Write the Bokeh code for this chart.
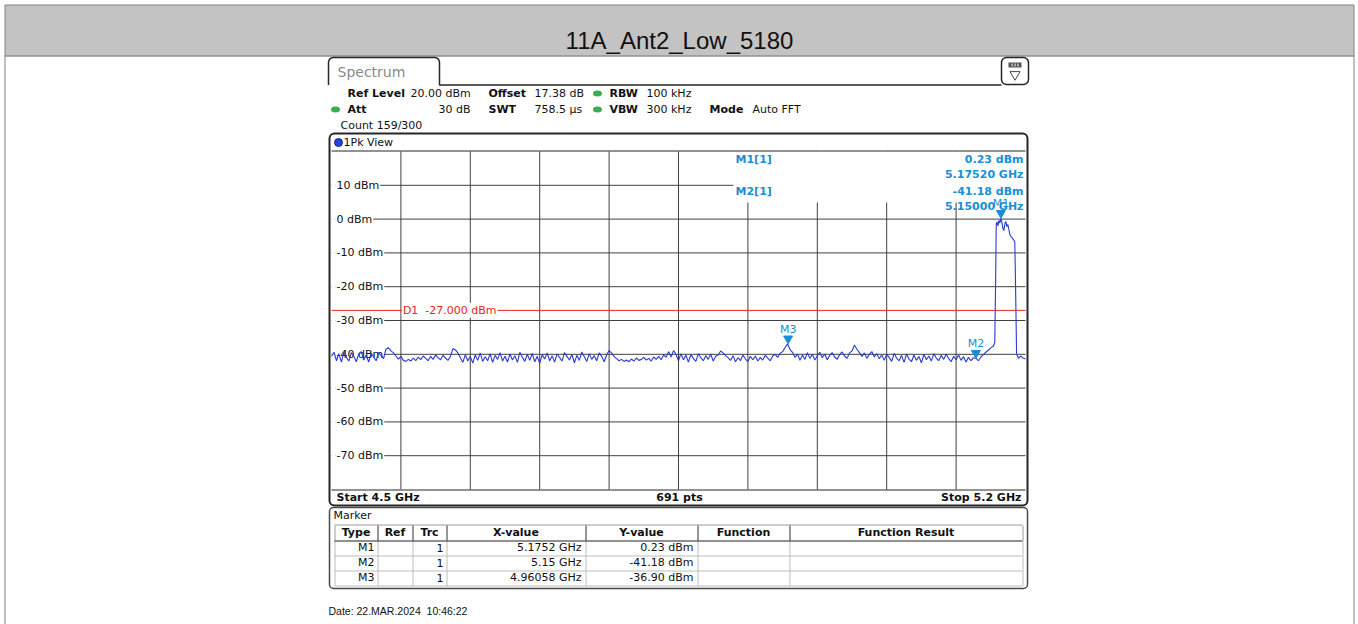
import numpy as np
from bokeh.plotting import figure
from bokeh.models import Range1d, Label
from bokeh.embed import file_html
from bokeh.resources import INLINE
from bokeh.core.properties import value

# ---------------- data ----------------
chart_title = "11A_Ant2_Low_5180"
freq_start_ghz = 4.5
freq_stop_ghz = 5.2
ref_level_dbm = 20.0
db_per_div = 10.0
n_x_div = 10
n_y_div = 10
sweep_points = 691

y_tick_dbm = [10, 0, -10, -20, -30, -40, -50, -60, -70]
y_tick_labels = ["10 dBm", "0 dBm", "-10 dBm", "-20 dBm", "-30 dBm",
                 "-40 dBm", "-50 dBm", "-60 dBm", "-70 dBm"]

# trace, 4.5000 ... 5.1650 GHz in 2.5 MHz steps
noise_step_ghz = 0.0025
noise_dbm = [
    -40.6, -39.4, -41.9, -39.8, -42.3, -39.3, -40.9, -42.0, -39.5, -40.6,
    -42.2, -39.9, -39.2, -41.7, -40.2, -42.3, -39.6, -40.8, -41.9, -39.5, -40.4, -41.3,
    -38.4, -38.1, -39.0,
    -39.6, -40.5, -41.4, -40.6, -41.8, -42.1, -41.5, -42.0, -41.1, -41.9,
    -40.8, -41.6, -40.5, -41.2, -41.9, -40.6, -41.5, -40.2, -41.0, -41.6,
    -40.3, -41.1, -41.8, -40.6,
    -38.3, -38.7, -39.6,
    -41.0, -42.4, -40.1, -42.0, -40.6, -42.6, -40.2, -41.8, -39.6, -42.1,
    -40.7, -41.9, -39.8, -42.4, -40.3, -41.5, -39.5, -42.0, -40.6, -42.3,
    -39.9, -41.7, -40.4, -42.4, -39.4, -40.9, -42.1, -40.0, -41.8, -39.7,
    -42.2, -40.6, -42.7, -40.1, -41.4, -39.6, -41.9, -40.4, -42.3, -39.9,
    -40.9, -42.0, -39.5, -40.6, -41.7, -40.0, -42.5, -40.3, -41.8, -39.3,
    -40.7, -42.1, -39.8, -41.5, -40.4, -41.9, -39.6, -40.6, -42.2, -40.2,
    -38.9, -39.6,
    -40.6, -41.3, -41.9, -41.5, -42.1, -41.7, -42.2, -41.4, -42.0, -41.1,
    -41.8, -41.5, -40.9, -41.7, -41.2, -42.0, -40.8, -41.5, -40.6, -41.6,
    -40.2, -40.9,
    -39.2, -40.8, -38.9,
    -40.0, -41.9, -39.8, -41.6, -40.3, -42.3, -40.1, -41.2, -42.1, -39.8,
    -41.0, -41.9, -40.4, -41.5, -39.9, -42.0, -40.6, -40.2,
    -39.0, -39.6, -40.4,
    -41.0, -41.8, -40.4, -42.2, -41.0, -41.9, -40.2, -41.4, -42.1, -40.6,
    -41.6, -40.5, -42.0, -40.9, -41.7, -40.3, -41.1, -41.9, -40.5, -40.0,
    -40.9, -39.7, -39.2,
    -38.0, -36.9, -38.6,
    -39.4, -40.9, -39.9, -41.8, -40.2, -41.5, -39.5, -41.2, -40.0, -41.7,
    -40.5, -39.4, -41.0, -39.9, -41.6, -40.4, -39.5, -40.8, -41.5, -40.1,
    -39.3, -40.5, -41.2, -39.6, -39.0,
    -37.3, -38.5,
    -39.5, -40.6, -39.6, -41.2, -40.0, -39.2, -40.8, -39.8, -41.3, -40.2,
    -41.8, -40.0, -40.9, -42.1, -39.7, -41.2, -41.9, -40.3, -42.4, -39.9,
    -41.4, -42.2, -40.2, -41.8, -40.6, -42.5, -40.0, -41.6, -40.5, -42.0,
    -39.8, -41.1, -41.9, -40.3, -41.5, -39.9, -41.3, -42.2, -40.6, -41.6,
    -40.2, -41.8, -40.7, -42.3, -40.9, -41.9, -41.0,
    -41.18,
    -41.9, -40.8, -40.1, -39.4, -38.8, -38.1,
]
# trace in and after the 5180 MHz channel
band_freq_ghz = [5.1675, 5.1690, 5.1698, 5.1705, 5.1712, 5.1722, 5.1732, 5.1742,
                 5.1752, 5.1762, 5.1772, 5.1782, 5.1792, 5.1802, 5.1812, 5.1822,
                 5.1832, 5.1842, 5.1852, 5.1862, 5.1872, 5.1882, 5.1892, 5.1900,
                 5.1910, 5.1920, 5.1930, 5.1950, 5.1970, 5.2000]
band_dbm = [-37.6, -36.5, -20.0, -1.5, -0.8, -2.0, -0.4, -1.2,
            0.23, -0.9, -2.8, -3.4, -1.3, -0.7, -2.2, -1.6,
            -3.0, -4.6, -5.1, -5.4, -5.8, -6.2, -6.7, -20.0,
            -39.8, -40.6, -41.2, -40.5, -41.0, -41.4]

marker_names = ["M1", "M2", "M3"]
marker_trace = [1, 1, 1]
marker_freq_ghz = [5.1752, 5.15, 4.96058]
marker_dbm = [0.23, -41.18, -36.90]
display_line_dbm = -27.0

table_headers = ["Type", "Ref", "Trc", "X-value", "Y-value", "Function", "Function Result"]
date_text = "Date: 22.MAR.2024\u00a0 10:46:22"

# ---------------- canvas (page pixels, y down) ----------------
W, H = 1358, 624


def X(v):
    return v


def Y(v):
    return v


p = figure(width=W, height=H, x_range=Range1d(0, W), y_range=Range1d(H, 0),
           output_backend="svg", toolbar_location=None,
           x_axis_location=None, y_axis_location=None, min_border=0)
p.grid.visible = False
p.xgrid.visible = False
p.ygrid.visible = False
p.outline_line_color = None
p.background_fill_color = "white"
p.border_fill_color = "white"

# grid area in page pixels
GL, GR, GT, GB = 331, 1025, 151, 489
ghz_per_px = (freq_stop_ghz - freq_start_ghz) / (GR - GL)
db_span = db_per_div * n_y_div
db_per_px = db_span / (GB - GT)
bottom_dbm = ref_level_dbm - db_span
p.extra_x_ranges = {"f": Range1d(freq_start_ghz - X(GL) * ghz_per_px,
                                 freq_start_ghz + (W - X(GL)) * ghz_per_px)}
p.extra_y_ranges = {"db": Range1d(ref_level_dbm - (H - Y(GT)) * db_per_px,
                                  ref_level_dbm + Y(GT) * db_per_px)}
D = dict(x_range_name="f", y_range_name="db")

FONT = "DejaVu Sans"
BLUE = "#1a8fd6"
RED = "#e8241c"
TRACE = "#2a3ad0"
GRID = "#404040"
BOX = "#262626"


def txt(x, y, s, size=11, bold=False, color="#111111", align="left", font=FONT):
    p.text(x=[X(x)], y=[Y(y)], text=[s], text_font=value(font),
           text_font_size=f"{size}px", text_font_style="bold" if bold else "normal",
           text_color=color, text_align=align, text_baseline="middle")


def hline(x0, x1, y, color=BOX, w=1.0, level="glyph"):
    p.segment(x0=[X(x0)], y0=[Y(y)], x1=[X(x1)], y1=[Y(y)], line_color=color,
              line_width=w, level=level)


def vline(x, y0, y1, color=BOX, w=1.0):
    p.segment(x0=[X(x)], y0=[Y(y0)], x1=[X(x)], y1=[Y(y1)], line_color=color, line_width=w)


def arc(cx, cy, r, a0, a1, n=7):
    t = np.radians(np.linspace(a0, a1, n))
    return list(cx + r * np.cos(t)), list(cy - r * np.sin(t))


# ---------------- page header ----------------
p.quad(left=[X(4.5)], right=[X(1353.5)], top=[Y(4.5)], bottom=[Y(55)], fill_color="#c3c3c3",
       line_color=None)
hline(4.5, 1353.5, 55.5, color="#5a5a5a")
p.segment(x0=[X(4.5), X(1353.5), X(4.5)], y0=[Y(4.5), Y(4.5), Y(4.5)],
          x1=[X(4.5), X(1353.5), X(1353.5)], y1=[Y(H), Y(H), Y(4.5)],
          line_color="#808080", line_width=1)
txt(679, 40, chart_title, size=24, color="#111111", align="center",
    font="Liberation Sans")

# ---------------- spectrum tab + settings ----------------
ax1, ay1 = arc(333, 62, 5, 180, 90)
ax2, ay2 = arc(434, 62, 5, 90, 0)
tab_x = [328] + ax1 + ax2 + [439, 1001]
tab_y = [84.5] + ay1 + ay2 + [84.5, 84.5]
p.line([X(v) for v in tab_x], [Y(v) for v in tab_y], line_color=BOX, line_width=1.5)
txt(337, 71, "Spectrum", size=14, color="#8a8a8a")

p.quad(left=[X(1001)], right=[X(1028)], top=[Y(57)], bottom=[Y(84)], border_radius=5,
       fill_color="white", line_color=BOX, line_width=1.5)
p.quad(left=[X(1008)], right=[X(1021)], top=[Y(62)], bottom=[Y(67)],
       fill_color="#555555", line_color=None)
p.segment(x0=[X(1011.5), X(1014.5), X(1017.5)], y0=[Y(63)] * 3,
          x1=[X(1011.5), X(1014.5), X(1017.5)], y1=[Y(66)] * 3, line_color="white", line_width=1)
p.scatter([X(1014.5)], [Y(74)], marker="inverted_triangle", size=10,
          fill_color=None, line_color="#444444", line_width=1)

green_x = [597, 335, 597]
green_y = [93, 109, 109]
p.ellipse(x=[X(v) for v in green_x], y=[Y(v) for v in green_y], width=9, height=6,
          fill_color="#3aae4e", line_color=None)

txt(347, 93, "Ref Level", bold=True)
txt(410, 93, "20.00 dBm")
txt(488, 93, "Offset", bold=True)
txt(534, 93, "17.38 dB")
txt(609, 93, "RBW", bold=True)
txt(646, 93, "100 kHz")
txt(347, 109, "Att", bold=True)
txt(470, 109, "30 dB", align="right")
txt(488, 109, "SWT", bold=True)
txt(534, 109, "758.5 µs")
txt(609, 109, "VBW", bold=True)
txt(646, 109, "300 kHz")
txt(709, 109, "Mode", bold=True)
txt(752, 109, "Auto FFT")
txt(340, 125, "Count 159/300")

# ---------------- diagram ----------------
x_grid = [freq_start_ghz + k * (freq_stop_ghz - freq_start_ghz) / n_x_div for k in range(1, n_x_div)]
p.segment(x0=x_grid, y0=[bottom_dbm] * len(x_grid), x1=x_grid, y1=[ref_level_dbm] * len(x_grid),
          line_color=GRID, line_width=1, level="underlay", **D)
p.segment(x0=[freq_start_ghz] * len(y_tick_dbm), y0=y_tick_dbm,
          x1=[freq_stop_ghz] * len(y_tick_dbm), y1=y_tick_dbm,
          line_color=GRID, line_width=1, level="underlay", **D)
# white strip at the left edge, where the level labels sit
p.quad(left=[X(GL)], right=[X(GL + 4)], top=[Y(GT + 1)], bottom=[Y(GB - 1)],
       fill_color="white", line_color=None, level="underlay")
# marker-info area hides the grid behind it
p.quad(left=[X(733)], right=[X(GR)], top=[Y(GT)], bottom=[Y(202)],
       fill_color="white", line_color=None, level="underlay")
# display line D1
p.segment(x0=[freq_start_ghz], y0=[display_line_dbm], x1=[freq_stop_ghz], y1=[display_line_dbm],
          line_color=RED, line_width=1, level="underlay", **D)

for v, s in zip(y_tick_dbm, y_tick_labels):
    p.add_layout(Label(x=freq_start_ghz, y=v, x_offset=4, text=s, text_font=FONT,
                       text_font_size="11px", text_color="#111111", text_baseline="middle",
                       background_fill_color="white", padding=1, level="underlay", **D))
p.add_layout(Label(x=x_grid[0], y=display_line_dbm, x_offset=1,
                   text=f"D1\u00a0 {display_line_dbm:.3f} dBm", text_font=FONT,
                   text_font_size="11px", text_color=RED, text_baseline="middle",
                   background_fill_color="white", padding=1, level="underlay", **D))

# trace
noise_freq = [freq_start_ghz + i * noise_step_ghz for i in range(len(noise_dbm))]
p.line(noise_freq + band_freq_ghz, noise_dbm + band_dbm, line_color=TRACE, line_width=1.1, **D)

# markers
p.scatter(marker_freq_ghz, [v + 5.2 * db_per_px for v in marker_dbm], marker="inverted_triangle",
          size=9, fill_color=BLUE, line_color=BLUE, **D)
p.text(x=marker_freq_ghz, y=[v + 14.5 * db_per_px for v in marker_dbm], text=marker_names,
       text_font=value(FONT), text_font_size="11px", text_color=BLUE,
       text_align="center", text_baseline="middle", **D)

# marker info (upper right)
txt(735, 159, f"{marker_names[0]}[{marker_trace[0]}]", bold=True, color=BLUE)
txt(1023, 159, f"{marker_dbm[0]:.2f} dBm", bold=True, color=BLUE, align="right")
txt(1023, 174, f"{marker_freq_ghz[0]:.5f} GHz", bold=True, color=BLUE, align="right")
txt(735, 191, f"{marker_names[1]}[{marker_trace[1]}]", bold=True, color=BLUE)
txt(1023, 191, f"{marker_dbm[1]:.2f} dBm", bold=True, color=BLUE, align="right")
txt(1023, 206, f"{marker_freq_ghz[1]:.5f} GHz", bold=True, color=BLUE, align="right")

# diagram frame
p.quad(left=[X(329)], right=[X(1027)], top=[Y(133)], bottom=[Y(505)], border_radius=5,
       fill_color=None, line_color=BOX, line_width=2)
hline(GL, GR, 150.5)
hline(GL, GR, 489.5)
p.ellipse(x=[X(338)], y=[Y(142)], width=8, height=8, fill_color="#2442d8", line_color="#142a80",
          line_width=1)
txt(343, 142, "1Pk View")
txt(336, 497, f"Start {freq_start_ghz:g} GHz", bold=True)
txt(679, 497, f"{sweep_points} pts", bold=True, align="center")
txt(1021, 497, f"Stop {freq_stop_ghz:g} GHz", bold=True, align="right")

# ---------------- marker table ----------------
p.quad(left=[X(329)], right=[X(1027)], top=[Y(507)], bottom=[Y(588)], border_radius=4,
       fill_color=None, line_color="#4a4a4a", line_width=1.5)
txt(333, 515, "Marker")
col_edges = [334, 377, 412, 446, 585, 697, 789, 1022]
row_y = [547, 562, 577]
hline(col_edges[0], col_edges[-1], 524.5, color="#9a9a9a")
for yy in [555.5, 570.5, 585.5]:
    hline(col_edges[0], col_edges[-1], yy, color="#bdbdbd")
for xx in col_edges:
    p.segment(x0=[X(xx + 0.5)], y0=[Y(540)], x1=[X(xx + 0.5)], y1=[Y(585.5)],
              line_color="#bdbdbd", line_width=1)
for xx in col_edges[1:-1]:
    vline(xx + 0.5, 525, 540, color="#303030")
vline(col_edges[0] + 0.5, 525, 540, color="#9a9a9a")
vline(col_edges[-1] + 0.5, 525, 540, color="#9a9a9a")
hline(col_edges[0], col_edges[-1], 540.5, color="#202020")
for i, h in enumerate(table_headers):
    txt((col_edges[i] + col_edges[i + 1]) / 2, 532, h, bold=True, align="center")
for name, trc, fq, lv, yy in zip(marker_names, marker_trace, marker_freq_ghz, marker_dbm, row_y):
    txt(col_edges[1] - 3, yy, name, align="right")
    txt(col_edges[3] - 3, yy, str(trc), align="right")
    txt(col_edges[4] - 4, yy, f"{fq:g} GHz", align="right")
    txt(col_edges[5] - 4, yy, f"{lv:.2f} dBm", align="right")

txt(328, 610, date_text, size=10.5, font="Liberation Sans")

open("out.html", "w").write(file_html(p, INLINE))
